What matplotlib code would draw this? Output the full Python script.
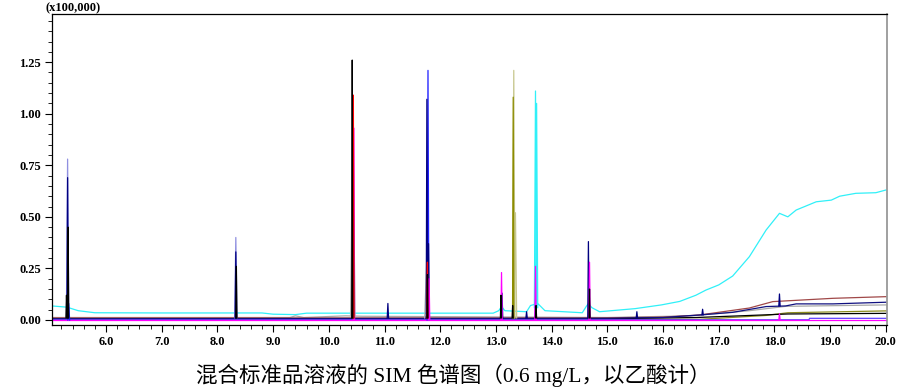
import matplotlib
matplotlib.use("Agg")
import matplotlib.pyplot as plt
from matplotlib.ticker import MultipleLocator, FormatStrFormatter

# retention time (min) vs. intensity (x100,000)

# baselines of the SIM channels
CYAN_RT = [5.03, 5.30, 5.50, 5.80, 7.00, 8.80, 9.00, 9.40, 9.60, 12.95, 13.05, 13.10,
           13.16, 13.55, 13.62, 13.75, 13.88, 14.55, 14.62, 14.66, 14.72, 14.86, 15.50,
           15.97, 16.30, 16.59, 16.77, 17.00, 17.25, 17.55, 17.85, 18.09, 18.24, 18.39,
           18.75, 19.02, 19.17, 19.46, 19.82, 20.00]
CYAN_Y = [0.068, 0.062, 0.045, 0.035, 0.034, 0.034, 0.028, 0.026, 0.033, 0.033, 0.045,
          0.065, 0.045, 0.040, 0.070, 0.080, 0.045, 0.035, 0.065, 0.080, 0.060, 0.040,
          0.055, 0.073, 0.090, 0.120, 0.145, 0.170, 0.213, 0.307, 0.436, 0.517, 0.500,
          0.533, 0.573, 0.581, 0.600, 0.614, 0.617, 0.630]

BROWN_RT = [5.03, 14.86, 16.00, 16.65, 17.55, 17.97, 19.05, 20.00]
BROWN_Y = [0.010, 0.010, 0.014, 0.024, 0.058, 0.089, 0.105, 0.113]

NAVY_RT = [5.03, 15.00, 16.00, 16.65, 17.25, 17.85, 18.20, 18.39, 19.05, 20.00]
NAVY_Y = [0.006, 0.008, 0.012, 0.024, 0.037, 0.065, 0.068, 0.078, 0.078, 0.086]

GRAY_RT = [5.03, 9.30, 9.40, 9.55, 10.30, 10.60, 15.00, 16.50, 17.55, 18.20, 20.00]
GRAY_Y = [0.012, 0.012, 0.020, 0.012, 0.020, 0.018, 0.012, 0.020, 0.045, 0.066, 0.073]

OLIVE_RT = [5.03, 16.65, 17.85, 18.24, 20.00]
OLIVE_Y = [0.003, 0.003, 0.022, 0.035, 0.044]

BLACK_RT = [5.03, 15.00, 16.60, 18.24, 20.00]
BLACK_Y = [0.004, 0.006, 0.012, 0.029, 0.032]

MAGENTA_RT = [5.03, 20.00]
MAGENTA_Y = [0.000, 0.000]

VIOLET_RT = [5.03, 18.62, 18.63, 20.00]
VIOLET_Y = [0.001, 0.001, 0.008, 0.008]

# peaks: retention time, apex height, height at the foot
BLACK_PK_RT = [5.29, 5.32, 8.34, 10.42, 11.77, 13.09, 13.30, 13.72, 14.68]
BLACK_PK_H = [0.12, 0.45, 0.26, 1.26, 0.22, 0.12, 0.07, 0.07, 0.15]
BLACK_PK_B = [0.01, 0.01, 0.01, 0.01, 0.01, 0.01, 0.01, 0.01, 0.01]

NAVY_PK_RT = [5.31, 8.33, 11.06, 11.76, 11.79, 13.11, 13.55, 13.71, 14.66, 15.53, 16.71, 18.09]
NAVY_PK_H = [0.69, 0.33, 0.08, 1.07, 0.37, 0.13, 0.04, 0.07, 0.38, 0.040, 0.052, 0.126]
NAVY_PK_B = [0.01, 0.01, 0.01, 0.01, 0.01, 0.01, 0.01, 0.01, 0.01, 0.010, 0.025, 0.068]

PERI_PK_RT = [5.31, 8.33]
PERI_PK_H = [0.78, 0.40]
PERI_PK_B = [0.01, 0.01]

BLUE_PK_RT = [5.33, 11.78]
BLUE_PK_H = [0.08, 1.21]
BLUE_PK_B = [0.00, 0.00]

GRAY_PK_RT = [10.43, 11.76]
GRAY_PK_H = [1.02, 0.30]
GRAY_PK_B = [0.02, 0.01]

RED_PK_RT = [10.44, 11.77]
RED_PK_H = [1.09, 0.28]
RED_PK_B = [0.01, 0.01]

GREEN_PK_RT = [10.44]
GREEN_PK_H = [0.55]
GREEN_PK_B = [0.01]

MAGENTA_PK_RT = [10.45, 11.80, 13.10, 13.71, 14.68, 18.09]
MAGENTA_PK_H = [0.93, 0.20, 0.23, 0.26, 0.28, 0.03]
MAGENTA_PK_B = [0.00, 0.00, 0.00, 0.00, 0.00, 0.00]

LOLIVE_PK_RT = [13.32, 13.35]
LOLIVE_PK_H = [1.21, 0.52]
LOLIVE_PK_B = [0.01, 0.01]

OLIVE_PK_RT = [13.31]
OLIVE_PK_H = [1.08]
OLIVE_PK_B = [0.01]

CYAN_PK_RT = [13.71, 13.73]
CYAN_PK_H = [1.11, 1.05]
CYAN_PK_B = [0.06, 0.06]

BASELINES = [
    (CYAN_RT, CYAN_Y, "#30f0f8"),
    (GRAY_RT, GRAY_Y, "#a8a8a8"),
    (BROWN_RT, BROWN_Y, "#a04848"),
    (OLIVE_RT, OLIVE_Y, "#8c8c1e"),
    (BLACK_RT, BLACK_Y, "#000000"),
    (NAVY_RT, NAVY_Y, "#101080"),
    (VIOLET_RT, VIOLET_Y, "#6040ff"),
    (MAGENTA_RT, MAGENTA_Y, "#ff00ff"),
]

PEAKS = [
    (GRAY_PK_RT, GRAY_PK_H, GRAY_PK_B, "#b0b0b0", 0.04),
    (PERI_PK_RT, PERI_PK_H, PERI_PK_B, "#9090e0", 0.022),
    (LOLIVE_PK_RT, LOLIVE_PK_H, LOLIVE_PK_B, "#c8c890", 0.022),
    (CYAN_PK_RT, CYAN_PK_H, CYAN_PK_B, "#30f0f8", 0.02),
    (BLUE_PK_RT, BLUE_PK_H, BLUE_PK_B, "#2020ff", 0.016),
    (OLIVE_PK_RT, OLIVE_PK_H, OLIVE_PK_B, "#8c8c00", 0.012),
    (NAVY_PK_RT, NAVY_PK_H, NAVY_PK_B, "#000080", 0.012),
    (MAGENTA_PK_RT, MAGENTA_PK_H, MAGENTA_PK_B, "#ff00ff", 0.012),
    (GREEN_PK_RT, GREEN_PK_H, GREEN_PK_B, "#008000", 0.01),
    (RED_PK_RT, RED_PK_H, RED_PK_B, "#ff0000", 0.01),
    (BLACK_PK_RT, BLACK_PK_H, BLACK_PK_B, "#000000", 0.01),
]

TICK_FONT = dict(family="Liberation Serif", weight="bold", size=9)

fig = plt.figure(figsize=(9.06, 3.91), dpi=100)
ax = fig.add_axes([0.0574, 0.169, 0.9216, 0.795])

for rt, y, color in BASELINES:
    ax.plot(rt, y, color=color, linewidth=0.9, solid_joinstyle="round")

for rts, hs, bs, color, w in PEAKS:
    for rt, h, b in zip(rts, hs, bs):
        ax.plot([rt - w, rt, rt + w], [b, h, b], color=color, linewidth=0.9)

ax.set_xlim(5.03, 20.02)
ax.set_ylim(-0.024, 1.483)
ax.xaxis.set_major_locator(MultipleLocator(1.0))
ax.xaxis.set_minor_locator(MultipleLocator(0.2))
ax.yaxis.set_major_locator(MultipleLocator(0.25))
ax.yaxis.set_minor_locator(MultipleLocator(0.05))
ax.xaxis.set_major_formatter(FormatStrFormatter("%.1f"))
ax.yaxis.set_major_formatter(FormatStrFormatter("%.2f"))
ax.tick_params(axis="both", which="major", length=5, width=0.8, direction="out", pad=3)
ax.tick_params(axis="both", which="minor", length=3, width=0.6, direction="out")
for lab in ax.get_xticklabels() + ax.get_yticklabels():
    lab.set_fontproperties(TICK_FONT)

for side in ("left", "bottom", "top"):
    ax.spines[side].set_linewidth(0.9)
ax.spines["right"].set_color("#909090")
ax.spines["right"].set_linewidth(1.2)

fig.text(0.050, 0.980, "(x100,000)", ha="left", va="center", **TICK_FONT)

fig.text(0.500, 0.041, "混合标准品溶液的 SIM 色谱图（0.6 mg/L，以乙酸计）",
         ha="center", va="center", fontsize=15.5,
         family=["Liberation Serif", "Noto Sans CJK SC"])

fig.savefig("out.png", dpi=100)
